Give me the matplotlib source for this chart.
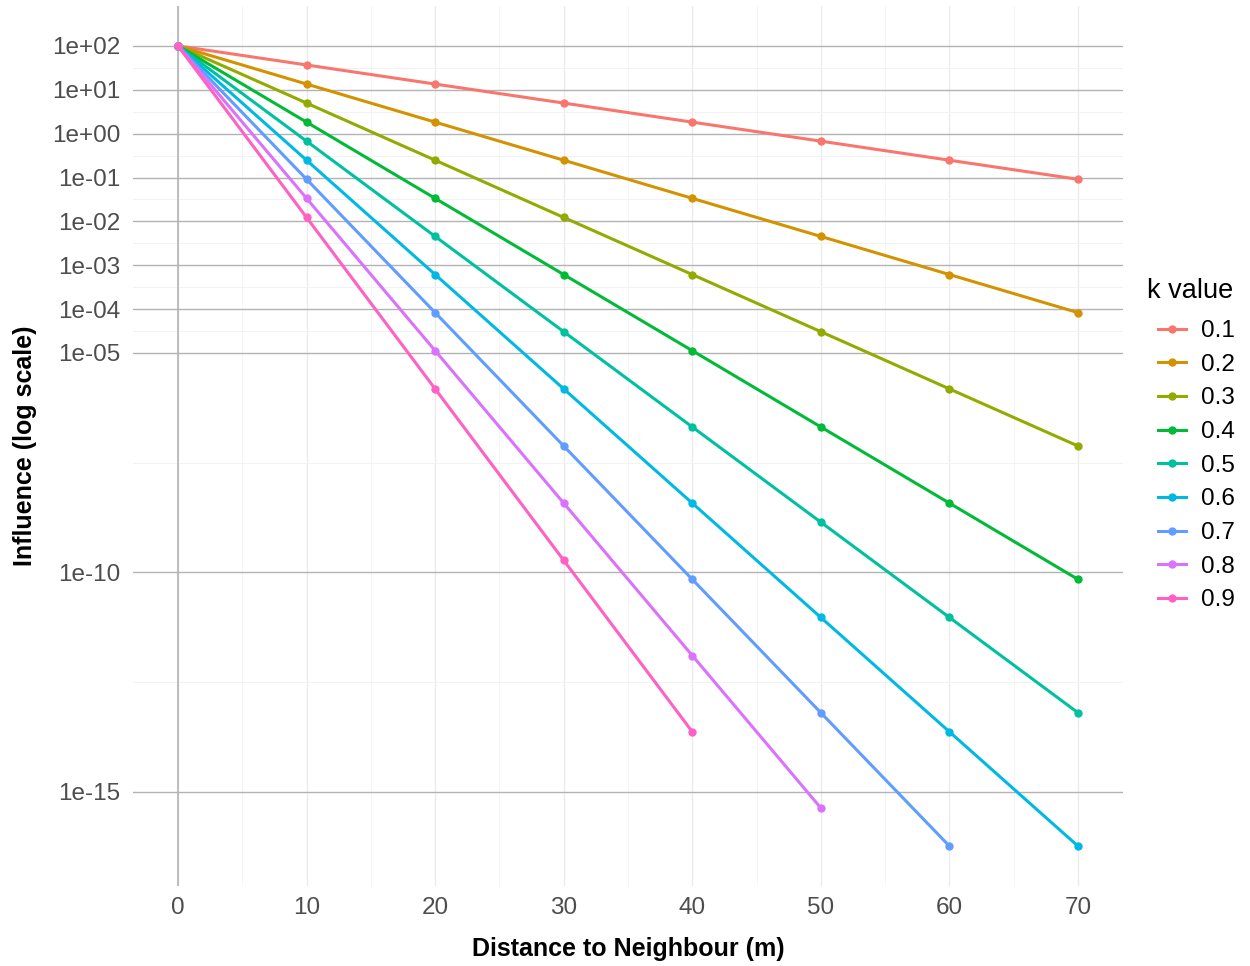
import matplotlib.pyplot as plt
import numpy as np

plt.rcParams['font.family'] = ['Liberation Sans', 'DejaVu Sans']

# distance (m) and influence values per k
distance = [0, 10, 20, 30, 40, 50, 60, 70]
k_labels = ["0.1", "0.2", "0.3", "0.4", "0.5", "0.6", "0.7", "0.8", "0.9"]

k01 = [100, 36.8, 13.5, 4.98, 1.83, 0.674, 0.248, 0.0912]
k02 = [100, 13.5, 1.83, 0.248, 0.0335, 4.54e-3, 6.14e-4, 8.32e-5]
k03 = [100, 4.98, 0.248, 0.0123, 6.14e-4, 3.06e-5, 1.52e-6, 7.58e-8]
k04 = [100, 1.83, 0.0335, 6.14e-4, 1.13e-5, 2.06e-7, 3.78e-9, 6.91e-11]
k05 = [100, 0.674, 4.54e-3, 3.06e-5, 2.06e-7, 1.39e-9, 9.36e-12, 6.31e-14]
k06 = [100, 0.248, 6.14e-4, 1.52e-6, 3.78e-9, 9.36e-12, 2.32e-14, 5.75e-17]
k07 = [100, 0.0912, 8.32e-5, 7.58e-8, 6.91e-11, 6.31e-14, 5.75e-17]
k08 = [100, 0.0335, 1.13e-5, 3.78e-9, 1.27e-12, 4.25e-16]
k09 = [100, 0.0123, 1.52e-6, 1.88e-10, 2.32e-14]
series = [k01, k02, k03, k04, k05, k06, k07, k08, k09]

colors = ["#F8766D", "#D39200", "#93AA00", "#00BA38", "#00C19F",
          "#00B9E3", "#619CFF", "#DB72FB", "#FF61C3"]

y_breaks = [1e2, 1e1, 1e0, 1e-1, 1e-2, 1e-3, 1e-4, 1e-5, 1e-10, 1e-15]
y_labels = ["1e+02", "1e+01", "1e+00", "1e-01", "1e-02", "1e-03",
            "1e-04", "1e-05", "1e-10", "1e-15"]
x_breaks = [0, 10, 20, 30, 40, 50, 60, 70]

fig = plt.figure(figsize=(12.5, 9.66), dpi=100)
ax = fig.add_axes([0.1064, 0.0828, 0.792, 0.911])

for lab, vals, col in zip(k_labels, series, colors):
    ax.plot(distance[:len(vals)], vals, color=col, lw=2.2, marker='o',
            ms=5, label=lab, zorder=3)

ax.set_yscale('log')
ax.set_xlim(-3.5, 73.5)
ax.set_ylim(10 ** -17.15, 10 ** 2.91)

# grid lines (ggplot-like)
for xb in x_breaks:
    ax.axvline(xb, color='#ebebeb', lw=1.0, zorder=0)
for xm in np.arange(5, 70, 10):
    ax.axvline(xm, color='#f5f5f5', lw=0.7, zorder=0)
for yb in y_breaks:
    ax.axhline(yb, color='#b3b3b3', lw=1.0, zorder=1)
lb = np.log10(y_breaks)
for a, b in zip(lb[:-1], lb[1:]):
    ax.axhline(10 ** ((a + b) / 2), color='#f2f2f2', lw=0.7, zorder=0)
ax.axvline(0, color='#b3b3b3', lw=1.2, zorder=1)

ax.set_yticks(y_breaks)
ax.set_yticklabels(y_labels)
ax.yaxis.set_minor_locator(plt.NullLocator())
ax.set_xticks(x_breaks)
ax.set_xticklabels([str(v) for v in x_breaks])
ax.tick_params(axis='both', length=0, labelsize=17.5, colors='#4d4d4d')
ax.tick_params(axis='x', pad=8)
ax.tick_params(axis='y', pad=9)
for s in ax.spines.values():
    s.set_visible(False)

ax.set_xlabel("Distance to Neighbour (m)", fontsize=18, fontweight='bold', labelpad=13)
ax.set_ylabel("Influence (log scale)", fontsize=18, fontweight='bold', labelpad=11)

leg = fig.legend(*ax.get_legend_handles_labels(), loc='upper left',
                 bbox_to_anchor=(1158 / 1250, 1 - 320 / 966),
                 frameon=False, fontsize=17.5, handlelength=1.15,
                 handletextpad=0.6, labelspacing=0.48,
                 borderpad=0, borderaxespad=0)
fig.text(1147 / 1250, 1 - 291 / 966, "k value", fontsize=19.5,
         ha='left', va='center')

fig.savefig("out.png", dpi=100)
